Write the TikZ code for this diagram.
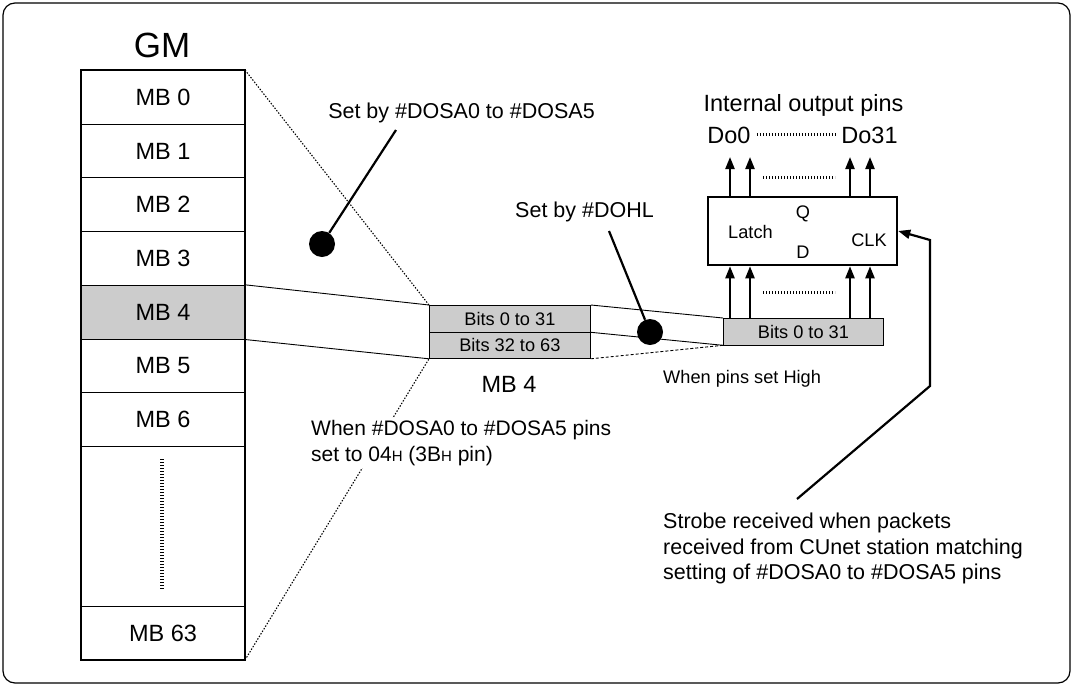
\documentclass[tikz,border=0pt]{standalone}
\usepackage{fontspec}
\setmainfont{Liberation Sans}
\usetikzlibrary{arrows.meta,calc}
\begin{document}
\begin{tikzpicture}[x=1pt,y=-1pt,
  row/.style={draw, line width=1pt, minimum width=163pt, minimum height=53.7pt, anchor=north west, inner sep=0pt, font=\fontsize{23.5}{28}\selectfont},
  bitbox/.style={draw, fill=gray!40, line width=0.8pt, minimum width=161pt, minimum height=26.5pt, anchor=north west, inner sep=0pt, font=\fontsize{18.2}{22}\selectfont},
  blob/.style={circle, fill=black, minimum size=26pt, inner sep=0pt},
  lead/.style={line width=2.2pt},
  arr/.style={line width=2.2pt, -{Triangle[length=12pt,width=9pt]}},
  thin/.style={line width=0.9pt},
  fine/.style={line width=1.1pt, dash pattern=on 1.4pt off 1.6pt},
  dotline/.style={line width=3pt, dash pattern=on 1.3pt off 1.7pt},
  lbl/.style={inner sep=0pt, font=\fontsize{21.5}{26}\selectfont},
  big/.style={inner sep=0pt, font=\fontsize{23.5}{28}\selectfont},
  small/.style={inner sep=0pt, font=\fontsize{18.2}{22}\selectfont},
]
\useasboundingbox (0,0) rectangle (1074,686);
\draw[line width=1.2pt, rounded corners=12pt] (3,3) rectangle (1070,683);

% GM column
\node[inner sep=0pt, font=\fontsize{35}{42}\selectfont, anchor=base] (gm) at (162,57) {GM};
\node[row] (mb0) at (81,70) {MB 0};
\node[row] (mb1) at (81,123.7) {MB 1};
\node[row] (mb2) at (81,177.4) {MB 2};
\node[row] (mb3) at (81,231.1) {MB 3};
\node[row, fill=gray!40] (mb4) at (81,284.8) {MB 4};
\node[row] (mb5) at (81,338.5) {MB 5};
\node[row] (mb6) at (81,392.2) {MB 6};
\node[row, minimum height=160pt] (mbd) at (81,445.9) {};
\node[row, minimum height=53.1pt] (mb63) at (81,605.9) {MB 63};
\draw[line width=4pt, dash pattern=on 1.4pt off 1.6pt] (162,459) -- (162,590);
\draw[line width=2.5pt] (mb0.north west) rectangle (mb63.south east);

% MB4 block
\node[bitbox] (b0) at (429,305) {Bits 0 to 31};
\node[bitbox] (b1) at (429,331.5) {Bits 32 to 63};
\node[big, anchor=base] (mb4lbl) at (509,392) {MB 4};

% expansion lines GM -> MB4 block
\draw[thin] (mb4.north east) -- (b0.north west);
\draw[thin] (mb4.south east) -- (b1.south west);
\draw[fine] (mb0.north east) -- (b0.north west);
\draw[fine] (mb63.south east) -- (b1.south west);

\node[fill=white, align=left, anchor=north west, inner sep=2pt, font=\fontsize{21}{26}\selectfont] (when) at (309,418)
  {When \#DOSA0 to \#DOSA5 pins\\set to 04{\fontsize{15}{17}\selectfont H} (3B{\fontsize{15}{17}\selectfont H} pin)};

% bits box to latch
\node[bitbox, minimum width=160pt] (bits) at (723,318) {Bits 0 to 31};
\draw[thin] (b0.north east) -- (bits.north west);
\draw[thin] (b0.south east) -- (bits.south west);
\draw[line width=0.9pt, dash pattern=on 3pt off 2pt] (b1.south east) -- (bits.south west);
\node[small, anchor=base west] (high) at (663,383) {When pins set High};

% Latch
\node[draw, line width=2.5pt, minimum width=189pt, minimum height=68pt, inner sep=0pt] (latch) at (802.5,231) {};
\node[small, anchor=base west] (latchtxt) at (728,238) {Latch};
\node[small] (q) at (803,214) {Q};
\node[small] (d) at (803,252) {D};
\node[small] (clk) at (869,240) {CLK};

\foreach \xx in {730,750,850,870} {
  \draw[arr] (\xx,0 |- bits.north) -- (\xx,0 |- latch.south);
  \draw[arr] (\xx,0 |- latch.north) -- (\xx,157);
}
\draw[dotline] (763,292) -- (835,292);
\draw[dotline] (763,177) -- (835,177);

\node[big, anchor=base] (iop) at (803.5,111) {Internal output pins};
\node[big, anchor=base] (do0) at (729,143) {Do0};
\node[big, anchor=base] (do31) at (869.5,143) {Do31};
\draw[dotline] ($(do0.east)+(6,0)$) -- ($(do31.west)+(-6,0)$);

% leaders with dots
\node[lbl, anchor=base] (set1) at (461.5,118) {Set by \#DOSA0 to \#DOSA5};
\node[blob] (d1) at (322,244) {};
\coordinate (p1) at (396,130);
\draw[lead] (p1) -- (d1);

\node[lbl, anchor=base west] (set2) at (515,217) {Set by \#DOHL};
\node[blob] (d2) at (650,332) {};
\coordinate (p2) at (609,231);
\draw[lead] (p2) -- (d2);

% strobe
\node[lbl, anchor=base west] (st1) at (663,528) {Strobe received when packets};
\node[lbl, anchor=base west] (st2) at (663,554) {received from CUnet station matching};
\node[lbl, anchor=base west] (st3) at (663,579) {setting of \#DOSA0 to \#DOSA5 pins};
\coordinate (s0) at (797,499);
\coordinate (s1) at (930,386);
\draw[arr] (s0) -- (s1) -- (s1 |- clk) -- (latch.east);
\end{tikzpicture}
\end{document}
